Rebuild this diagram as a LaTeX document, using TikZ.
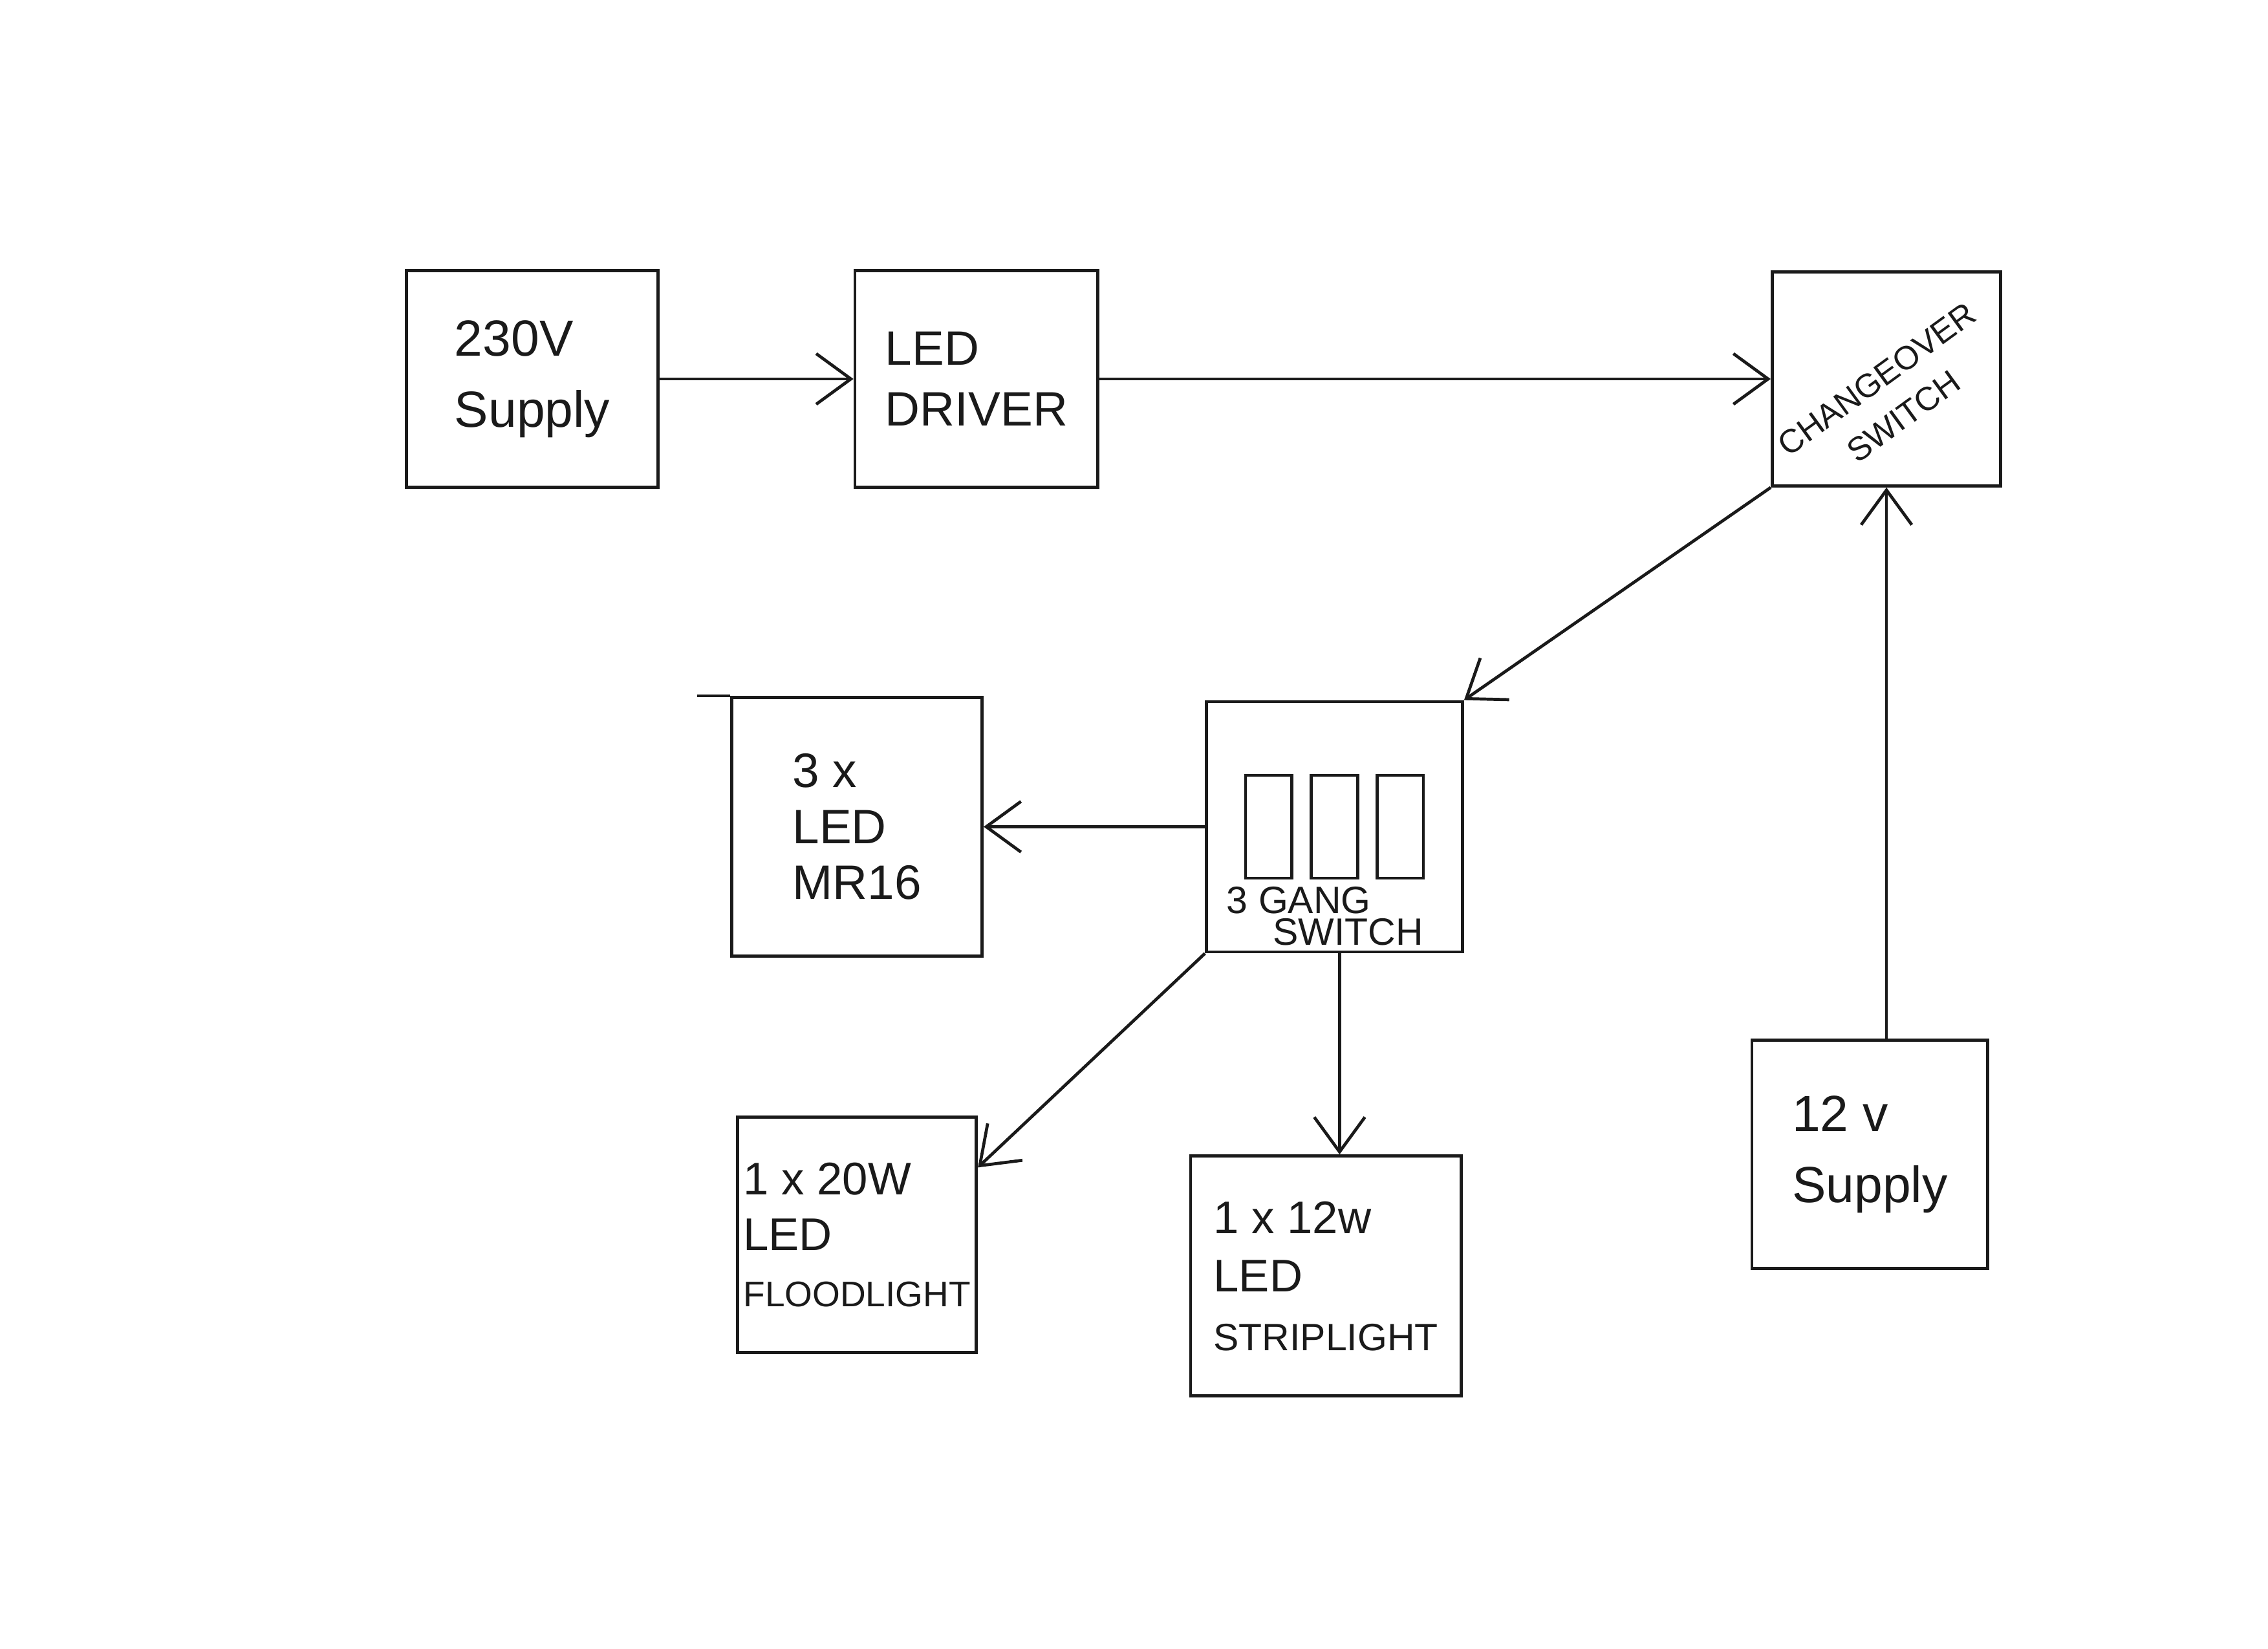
\documentclass[tikz,border=0pt]{standalone}
\usepackage{fontspec}
\setmainfont{Liberation Sans}
\usepackage{tikz}
\usetikzlibrary{arrows.meta,positioning}
\definecolor{ink}{HTML}{1A1A1A}
\tikzset{
  blk_box/.style={draw=ink,line width=1.2pt,inner sep=0pt,align=left,text=ink},
  key_box/.style={draw=ink,line width=1.2pt,minimum width=0.64cm,minimum height=1.42cm,inner sep=0pt},
  arr/.style={-{Straight Barb[length=0.48cm,width=0.7cm]},draw=ink,line width=1.2pt},
}
\newcommand{\longword}{\fontsize{14}{22}\selectfont}

\begin{document}
\begin{tikzpicture}
  \useasboundingbox (0,0) rectangle (31.36,-22.8);
  \fill[white] (0,0) rectangle (31.36,-22.8);

  % top row
  \node[blk_box,minimum width=3.48cm,minimum height=3cm,font=\fontsize{20}{28}\selectfont] (sup230) at (7.36,-5.24) {230V\\Supply};
  \node[blk_box,minimum width=3.36cm,minimum height=3cm,font=\fontsize{19}{24}\selectfont, right=2.68cm of sup230] (driver) {LED\\DRIVER};
  \node[blk_box,minimum width=3.16cm,minimum height=2.96cm, right=9.28cm of driver] (change) {};
  \node[rotate=36,align=center,inner sep=0pt,text=ink,font=\fontsize{13}{18}\selectfont] (change_txt) at ([xshift=0.05cm,yshift=-0.26cm]change.center) {CHANGEOVER\\SWITCH};

  \draw[arr] (sup230) -- (driver);
  \draw[arr] (driver) -- (change);

  % switch plate and loads
  \node[blk_box,minimum width=3.54cm,minimum height=3.46cm, below left=2.94cm and 4.24cm of change] (gang) {};
  \foreach \i/\dx in {1/-0.91,2/0,3/0.91}
    \node[key_box] (key\i) at ([xshift=\dx cm]gang.center) {};
  \node[anchor=south,align=left,inner sep=0pt,text=ink,font=\fontsize{15}{12.5}\selectfont] (gang_txt) at ([xshift=-0.13cm,yshift=0.1cm]gang.south) {3 GANG\\\hspace*{0.64cm}SWITCH};

  \node[blk_box,minimum width=3.46cm,minimum height=3.58cm,font=\fontsize{19}{22}\selectfont, left=3.06cm of gang] (mr16) {3 x\\LED\\MR16};
  \draw[draw=ink,line width=1.2pt] (mr16.north west) -- ++(-0.46,0);
  \node[blk_box,minimum width=3.3cm,minimum height=3.26cm,font=\fontsize{18}{22}\selectfont, below=2.18cm of mr16] (flood) {1 x 20W\\LED\\{\longword FLOODLIGHT}};
  \node[blk_box,minimum width=3.74cm,minimum height=3.32cm,font=\fontsize{18}{23}\selectfont, below=2.78cm of gang, xshift=-0.12cm] (strip) {1 x 12w\\LED\\{\fontsize{15}{23}\selectfont STRIPLIGHT}};
  \node[blk_box,minimum width=3.26cm,minimum height=3.16cm,font=\fontsize{20}{28}\selectfont, below=7.62cm of change, xshift=-0.23cm] (sup12) {12 v\\Supply};

  \draw[arr] (change.south west) -- (gang.north east);
  \draw[arr] (sup12.north -| change.south) -- (change.south);
  \draw[arr] (gang.west) -- (gang.west -| mr16.east);
  \draw[arr] (gang.south west) -- ([yshift=-0.72cm]flood.north east);
  \draw[arr] ([xshift=0.07cm]gang.south) -- ([xshift=0.07cm]gang.south |- strip.north);
\end{tikzpicture}
\end{document}
